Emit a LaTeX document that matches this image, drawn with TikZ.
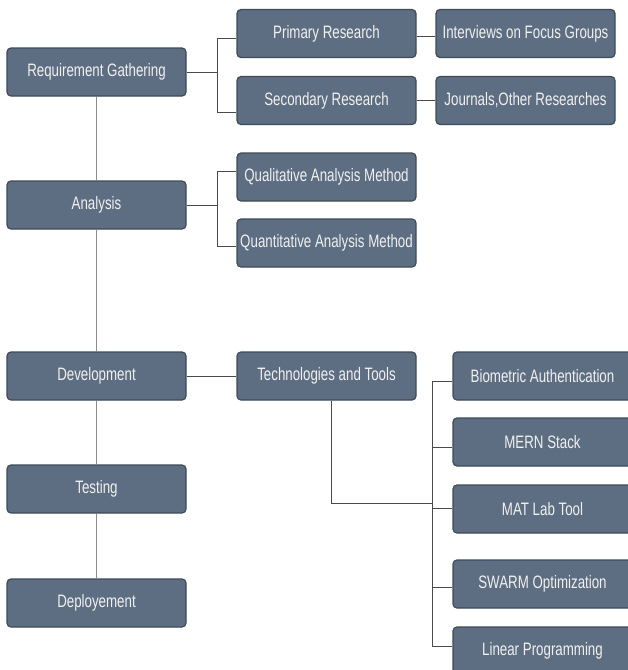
\documentclass[tikz,border=0pt]{standalone}
\usepackage{fontspec}
\setmainfont[FakeStretch=0.74]{Liberation Sans}
\usetikzlibrary{positioning}
\usetikzlibrary{calc}
\definecolor{boxfill}{HTML}{5E6E82}
\definecolor{boxline}{HTML}{3E4A58}
\definecolor{spinecol}{HTML}{8C8C8C}
\definecolor{brkcol}{HTML}{4A4A4A}
\def\boxW{179}
\def\boxH{48}
\tikzset{
    stage/.style={draw=boxline, line width=1.2pt, fill=boxfill, rounded corners=4pt,
        minimum width=\boxW pt, minimum height=\boxH pt, inner sep=0pt,
        text=white!94!black, font=\fontsize{18}{20}\selectfont},
    spine/.style={spinecol, line width=1pt},
    brk/.style={brkcol, line width=0.9pt}
}

\begin{document}
\begin{tikzpicture}[x=1pt, y=-1pt]
        \useasboundingbox (0,0) rectangle (628,670);
        \clip (0,0) rectangle (628,670);
        % main stages
        \node[stage] (req)  at (96.5,72)  {Requirement Gathering};
        \node[stage] (ana)  at (96.5,205) {Analysis};
        \node[stage] (dev)  at (96.5,376) {Development};
        \node[stage] (test) at (96.5,489) {Testing};
        \node[stage] (depl) at (96.5,603) {Deployement};

        % second level
        \node[stage] (prim) at (326.5,33.5)  {Primary Research};
        \node[stage] (sec)  at (326.5,100.5) {Secondary Research};
        \node[stage] (qual) at (326.5,177)   {Qualitative Analysis Method};
        \node[stage] (quan) at (326.5,243)   {Quantitative Analysis Method};
        \node[stage] (tech) at (326.5,376)   {Technologies and Tools};

        % third level
        \node[stage] (intv) at (525.5,33.5)  {Interviews on Focus Groups};
        \node[stage] (jour) at (525.5,100.5) {Journals,Other Researches};
        \node[stage] (bio)   at (542.5,376) {Biometric Authentication};
        \node[stage] (mern)  at (542.5,442) {MERN Stack};
        \node[stage] (mat)   at (542.5,509) {MAT Lab Tool};
        \node[stage] (swarm) at (542.5,584) {SWARM Optimization};
        \node[stage] (lin)   at (542.5,651) {Linear Programming};

        \draw[spine] (req) -- (ana);
        \draw[spine] (ana) -- (dev);
        \draw[spine] (dev) -- (test);
        \draw[spine] (test) -- (depl);

        \draw[brk] (req.east) -- ([xshift=-19pt]prim.west |- req.east);
        \draw[brk] ([yshift=-5pt]prim.west) -- ++(-19,0) |- ([yshift=-12pt]sec.west);
        \draw[brk] (ana.east) -- ([xshift=-19pt]qual.west |- ana.east);
        \draw[brk] ([yshift=6pt]qual.west) -- ++(-19,0) |- ([yshift=-3pt]quan.west);

        \draw[brk] ([yshift=-3pt]prim.east) -- ([yshift=-3pt]intv.west);
        \draw[brk] (sec.east) -- (jour.west);
        \draw[brk] (dev.east) -- (tech.west);

        \draw[brk] ([shift={(-20pt,-5pt)}]bio.west) -- ([shift={(-20pt,5pt)}]lin.west);
        \foreach \n/\dy in {bio/-5, mern/-5, mat/1, swarm/-3, lin/5}
            \draw[brk] ([yshift=\dy pt]\n.west) -- ++(-20,0);
        \draw[brk] ([xshift=5pt]tech.south) |- ([shift={(-20pt,6pt)}]mat.west);
    \end{tikzpicture}
\end{document}
